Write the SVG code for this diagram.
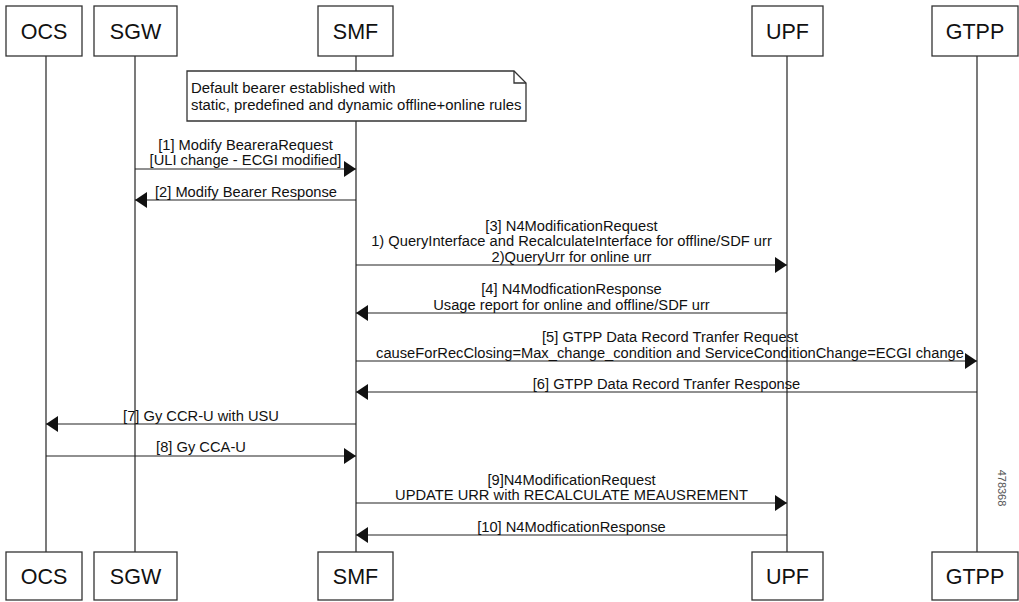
<svg xmlns="http://www.w3.org/2000/svg" width="1019" height="602" viewBox="0 0 1019 602">
<defs>
<style>
.box{fill:#fff;stroke:#333;stroke-width:1.3}
.life{stroke:#333;stroke-width:1.3;fill:none}
.msg{stroke:#222;stroke-width:1.2;fill:none}
.hd{font-family:"Liberation Sans",Arial,sans-serif;font-size:21.5px;fill:#111;text-anchor:middle}
.lb{font-family:"Liberation Sans",Arial,sans-serif;font-size:14.7px;fill:#111;text-anchor:middle}
.nt{font-family:"Liberation Sans",Arial,sans-serif;font-size:14.9px;fill:#111}
</style>
<marker id="ah" viewBox="0 0 12 16" refX="12" refY="8" markerWidth="12" markerHeight="16" markerUnits="userSpaceOnUse" orient="auto">
<path d="M0,0 L12,8 L0,16 z" fill="#111"/>
</marker>
</defs>
<rect width="1019" height="602" fill="#fff"/>
<g id="lifelines">
<line class="life" x1="46" y1="56" x2="46" y2="552"/>
<line class="life" x1="135" y1="56" x2="135" y2="552"/>
<line class="life" x1="356" y1="56" x2="356" y2="552"/>
<line class="life" x1="787" y1="56" x2="787" y2="552"/>
<line class="life" x1="977" y1="56" x2="977" y2="552"/>
</g>
<g id="node-ocs">
<rect class="box" x="6" y="6" width="76" height="50"/><text class="hd" x="44" y="39">OCS</text>
<rect class="box" x="6" y="552" width="76" height="48"/><text class="hd" x="44" y="584">OCS</text>
</g>
<g id="node-sgw">
<rect class="box" x="94" y="6" width="83" height="50"/><text class="hd" x="135.5" y="39">SGW</text>
<rect class="box" x="94" y="552" width="83" height="48"/><text class="hd" x="135.5" y="584">SGW</text>
</g>
<g id="node-smf">
<rect class="box" x="318" y="6" width="75" height="50"/><text class="hd" x="355.5" y="39">SMF</text>
<rect class="box" x="318" y="552" width="75" height="48"/><text class="hd" x="355.5" y="584">SMF</text>
</g>
<g id="node-upf">
<rect class="box" x="752" y="6" width="71" height="50"/><text class="hd" x="787.5" y="39">UPF</text>
<rect class="box" x="752" y="552" width="71" height="48"/><text class="hd" x="787.5" y="584">UPF</text>
</g>
<g id="node-gtpp">
<rect class="box" x="932" y="6" width="86" height="50"/><text class="hd" x="975" y="39">GTPP</text>
<rect class="box" x="932" y="552" width="86" height="48"/><text class="hd" x="975" y="584">GTPP</text>
</g>
<g id="note">
<path class="box" d="M187,71 L514,71 L526,83 L526,121 L187,121 Z"/>
<path class="life" d="M514,71 L514,83 L526,83"/>
<text class="nt" x="191" y="93">Default bearer established with</text>
<text class="nt" x="191" y="110">static, predefined and dynamic offline+online rules</text>
</g>
<g id="connectors">
<line class="msg" x1="135" y1="169" x2="356" y2="169" marker-end="url(#ah)"/>
<line class="msg" x1="356" y1="200" x2="135" y2="200" marker-end="url(#ah)"/>
<line class="msg" x1="356" y1="265" x2="787" y2="265" marker-end="url(#ah)"/>
<line class="msg" x1="787" y1="313" x2="356" y2="313" marker-end="url(#ah)"/>
<line class="msg" x1="356" y1="361" x2="977" y2="361" marker-end="url(#ah)"/>
<line class="msg" x1="977" y1="392" x2="356" y2="392" marker-end="url(#ah)"/>
<line class="msg" x1="356" y1="424" x2="46" y2="424" marker-end="url(#ah)"/>
<line class="msg" x1="46" y1="456" x2="356" y2="456" marker-end="url(#ah)"/>
<line class="msg" x1="356" y1="503" x2="787" y2="503" marker-end="url(#ah)"/>
<line class="msg" x1="787" y1="535" x2="356" y2="535" marker-end="url(#ah)"/>
</g>
<g id="labels">
<text class="lb" x="245.5" y="150">[1] Modify BeareraRequest</text>
<text class="lb" x="245.5" y="165">[ULI change - ECGI modified]</text>
<text class="lb" x="246" y="197">[2] Modify Bearer Response</text>
<text class="lb" x="571.5" y="231">[3] N4ModificationRequest</text>
<text class="lb" x="571.5" y="246">1) QueryInterface and RecalculateInterface for offline/SDF urr</text>
<text class="lb" x="571.5" y="262">2)QueryUrr for online urr</text>
<text class="lb" x="571.5" y="294">[4] N4ModficationResponse</text>
<text class="lb" x="571.5" y="310">Usage report for online and offline/SDF urr</text>
<text class="lb" x="670" y="342">[5] GTPP Data Record Tranfer Request</text>
<text class="lb" x="670" y="358">causeForRecClosing=Max_change_condition and ServiceConditionChange=ECGI change</text>
<text class="lb" x="666.5" y="389">[6] GTPP Data Record Tranfer Response</text>
<text class="lb" x="201" y="421">[7] Gy CCR-U with USU</text>
<text class="lb" x="201" y="452">[8] Gy CCA-U</text>
<text class="lb" x="571.5" y="485">[9]N4ModificationRequest</text>
<text class="lb" x="571.5" y="500">UPDATE URR with RECALCULATE MEAUSREMENT</text>
<text class="lb" x="571.5" y="532">[10] N4ModficationResponse</text>
<text font-family="Liberation Sans, Arial, sans-serif" font-size="11" fill="#555" text-anchor="middle" transform="translate(998,488) rotate(90)">478368</text>
</g>
</svg>
